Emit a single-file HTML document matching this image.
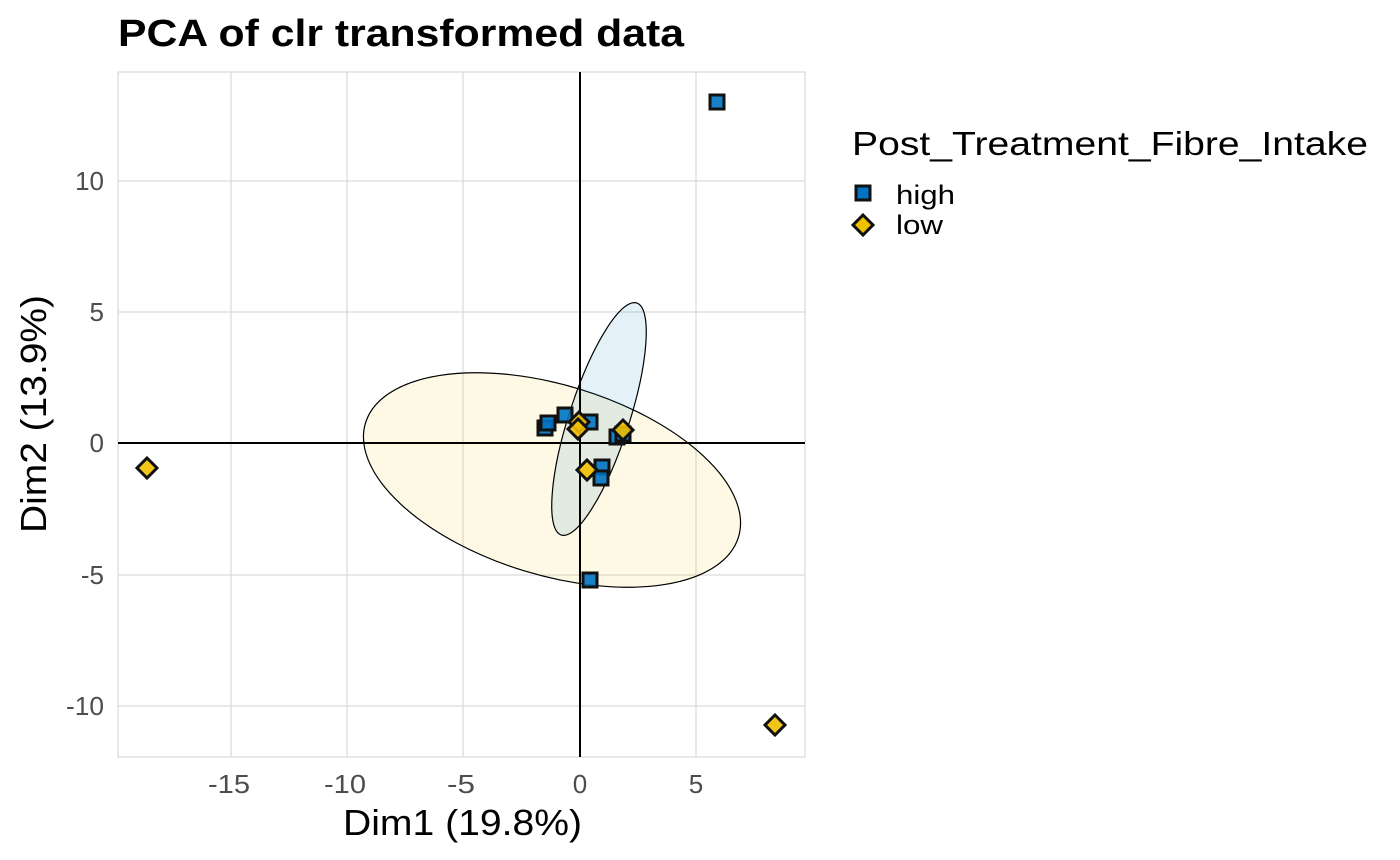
<!DOCTYPE html>
<html><head><style>body{margin:0;background:#fff}svg{display:block}text{font-family:"Liberation Sans",Arial,sans-serif}</style></head><body>
<svg width="1400" height="860" xmlns="http://www.w3.org/2000/svg">
<rect width="1400" height="860" fill="#fff"/>
<g stroke="#d9d9d9" stroke-width="1.2">
<line x1="231" y1="72" x2="231" y2="757"/><line x1="347" y1="72" x2="347" y2="757"/><line x1="463" y1="72" x2="463" y2="757"/><line x1="696" y1="72" x2="696" y2="757"/>
<line x1="118" y1="181" x2="805" y2="181"/><line x1="118" y1="312" x2="805" y2="312"/><line x1="118" y1="575" x2="805" y2="575"/><line x1="118" y1="706" x2="805" y2="706"/>
<rect x="118" y="72" width="687" height="685" fill="none"/>
</g>
<ellipse cx="552" cy="480" rx="195" ry="95" transform="rotate(17 552 480)" fill="#EFC000" fill-opacity="0.1" stroke="#000" stroke-width="1.2"/>
<ellipse cx="599" cy="419" rx="30" ry="122" transform="rotate(18 599 419)" fill="#0073C2" fill-opacity="0.1" stroke="#000" stroke-width="1.2"/>
<line x1="580" y1="72" x2="580" y2="757" stroke="#000" stroke-width="2"/>
<line x1="118" y1="443" x2="805" y2="443" stroke="#000" stroke-width="2"/>
<g fill="#0073C2" fill-opacity="0.9" stroke="#111" stroke-width="3">
<rect x="538" y="421" width="14" height="14"/><rect x="541" y="416" width="14" height="14"/><rect x="558" y="408" width="14" height="14"/><rect x="583" y="415" width="14" height="14"/><rect x="610" y="430" width="14" height="14"/><rect x="616" y="427" width="14" height="14"/><rect x="595" y="460" width="14" height="14"/><rect x="594" y="471" width="14" height="14"/><rect x="710" y="95" width="14" height="14"/><rect x="583" y="573" width="14" height="14"/>
</g>
<g fill="#EFC000" fill-opacity="0.9" stroke="#111" stroke-width="3">
<path d="M579 412l10 10-10 10-10-10z"/><path d="M578 419l10 10-10 10-10-10z"/><path d="M587 460l10 10-10 10-10-10z"/><path d="M623 420l10 10-10 10-10-10z"/><path d="M147 458l10 10-10 10-10-10z"/><path d="M775 715l10 10-10 10-10-10z"/>
</g>
<g font-size="26" fill="#4d4d4d" text-anchor="middle">
<text x="229" y="793" textLength="42" lengthAdjust="spacingAndGlyphs">-15</text><text x="345" y="793" textLength="42" lengthAdjust="spacingAndGlyphs">-10</text><text x="461" y="793" textLength="28" lengthAdjust="spacingAndGlyphs">-5</text><text x="580" y="793">0</text><text x="696" y="793">5</text>
</g>
<g font-size="26" fill="#4d4d4d" text-anchor="end">
<text x="104" y="190">10</text><text x="104" y="321">5</text><text x="104" y="452">0</text><text x="104" y="584">-5</text><text x="104" y="715" textLength="38" lengthAdjust="spacingAndGlyphs">-10</text>
</g>
<text x="343" y="835" font-size="36" textLength="239" lengthAdjust="spacingAndGlyphs" fill="#000">Dim1 (19.8%)</text>
<text transform="translate(46 533) rotate(-90)" font-size="36" textLength="238" lengthAdjust="spacingAndGlyphs" fill="#000">Dim2 (13.9%)</text>
<text x="118" y="46" font-size="38" font-weight="bold" textLength="566" lengthAdjust="spacingAndGlyphs" fill="#000">PCA of clr transformed data</text>
<text x="852" y="155" font-size="33" textLength="516" lengthAdjust="spacingAndGlyphs" fill="#000">Post_Treatment_Fibre_Intake</text>
<rect x="856" y="186" width="14" height="14" fill="#0073C2" stroke="#111" stroke-width="3"/>
<path d="M863 215l10 10-10 10-10-10z" fill="#EFC000" stroke="#111" stroke-width="3"/>
<text x="896" y="204" font-size="27" textLength="59" lengthAdjust="spacingAndGlyphs" fill="#000">high</text>
<text x="896" y="234" font-size="27" textLength="47" lengthAdjust="spacingAndGlyphs" fill="#000">low</text>
</svg>
</body></html>
